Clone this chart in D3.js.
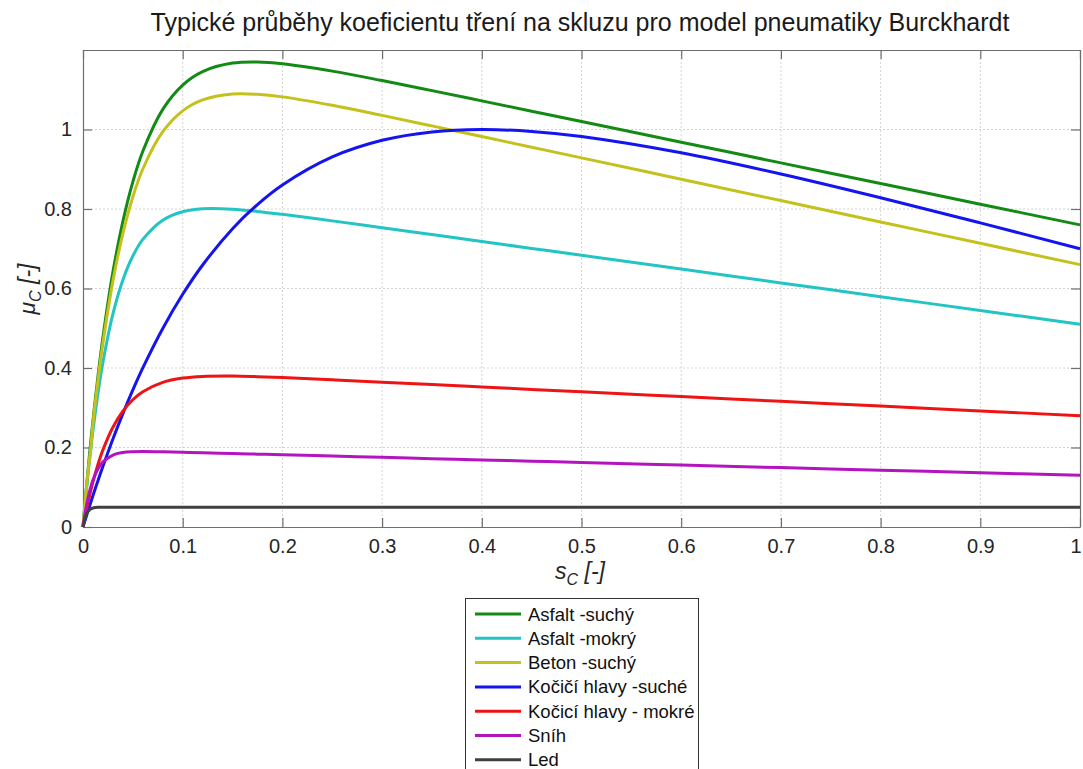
<!DOCTYPE html>
<html><head><meta charset="utf-8">
<script src="https://cdn.jsdelivr.net/npm/d3@7"></script>
<style>body{margin:0;background:#fff}svg{display:block;font-family:"Liberation Sans",Arial,sans-serif}</style>
</head><body>
<script>
const slip = [0,0.0025,0.005,0.0075,0.01,0.015,0.02,0.03,0.04,0.05,0.06,0.08,0.1,0.12,0.15,0.175,0.2,0.25,0.3,0.35,0.4,0.45,0.5,0.6,0.7,0.8,0.9,1];
const asfaltSuchy = [0,0.0732,0.1421,0.2069,0.2679,0.3791,0.4774,0.6412,0.7690,0.8684,0.9454,1.0507,1.1119,1.1458,1.1671,1.1699,1.1655,1.1469,1.1231,1.0978,1.0720,1.0461,1.0201,0.9681,0.9161,0.8641,0.8121,0.7601];
const asfaltMokry = [0,0.0686,0.1316,0.1894,0.2425,0.3358,0.4143,0.5359,0.6216,0.6817,0.7235,0.7720,0.7932,0.8006,0.7996,0.7940,0.7866,0.7701,0.7529,0.7356,0.7182,0.7009,0.6835,0.6488,0.6141,0.5794,0.5447,0.5100];
const betonSuchy = [0,0.0717,0.1389,0.1900,0.2610,0.3684,0.4628,0.6185,0.7383,0.8303,0.9006,0.9944,1.0469,1.0744,1.0893,1.0886,1.0821,1.0608,1.0355,1.0091,0.9822,0.9555,0.9287,0.8749,0.8212,0.7675,0.7137,0.6600];
const kociciSuche = [0,0.0203,0.0402,0.0598,0.0791,0.1166,0.1527,0.2214,0.2853,0.3449,0.4003,0.4996,0.5854,0.6591,0.7503,0.8112,0.8605,0.9310,0.9729,0.9940,1.0000,0.9952,0.9824,0.9414,0.8880,0.8282,0.7650,0.7000];
const kociciMokre = [0,0.0321,0.0615,0.0885,0.1134,0.1571,0.1940,0.2511,0.2916,0.3202,0.3402,0.3638,0.3746,0.3789,0.3798,0.3782,0.3759,0.3702,0.3643,0.3583,0.3522,0.3462,0.3402,0.3282,0.3161,0.3041,0.2920,0.2800];
const snih = [0,0.0406,0.0727,0.0981,0.1180,0.1462,0.1637,0.1811,0.1875,0.1896,0.1900,0.1893,0.1881,0.1868,0.1849,0.1833,0.1817,0.1785,0.1752,0.1720,0.1688,0.1655,0.1623,0.1558,0.1494,0.1429,0.1365,0.1300];
const led = [0,0.0268,0.0392,0.0450,0.0477,0.0495,0.0499,0.05,0.05,0.05,0.05,0.05,0.05,0.05,0.05,0.05,0.05,0.05,0.05,0.05,0.05,0.05,0.05,0.05,0.05,0.05,0.05,0.05];
const seriesNames = ["Asfalt -suchý","Asfalt -mokrý","Beton -suchý","Kočičí hlavy -suché","Kočicí hlavy - mokré","Sníh","Led"];
const seriesColors = ["#138a13","#22c4c4","#c4c01c","#1414f0","#ee1414","#b414c0","#404040"];
const seriesValues = [asfaltSuchy,asfaltMokry,betonSuchy,kociciSuche,kociciMokre,snih,led];
const xTicks = [0,0.1,0.2,0.3,0.4,0.5,0.6,0.7,0.8,0.9,1];
const yTicks = [0,0.2,0.4,0.6,0.8,1];
const titleText = "Typické průběhy koeficientu tření na skluzu pro model pneumatiky Burckhardt";

const W=1083,H=769;
const m={l:83,r:1080,t:50,b:527};
const svg=d3.select("body").append("svg").attr("width",W).attr("height",H);
const x=d3.scaleLinear().domain([0,1]).range([m.l,m.r]);
const y=d3.scaleLinear().domain([0,1.2]).range([m.b,m.t]);

// grid
const g=svg.append("g");
g.selectAll(".gx").data(xTicks.slice(1,-1)).enter().append("line")
 .attr("x1",d=>x(d)).attr("x2",d=>x(d)).attr("y1",m.t).attr("y2",m.b)
 .attr("stroke","#d4d4d4").attr("stroke-width",1).attr("stroke-dasharray","2,2");
g.selectAll(".gy").data(yTicks.slice(1)).enter().append("line")
 .attr("x1",m.l).attr("x2",m.r).attr("y1",d=>y(d)).attr("y2",d=>y(d))
 .attr("stroke","#d4d4d4").attr("stroke-width",1).attr("stroke-dasharray","2,2");

// axes
const axCol="#6e6e6e", txtCol="#262626";
function styleAxis(sel){sel.select(".domain").attr("stroke",axCol).attr("stroke-width",1.2);
 sel.selectAll(".tick line").attr("stroke",axCol).attr("stroke-width",1.2);
 sel.selectAll(".tick text").attr("fill",txtCol).style("font-size","20px");}
const fmt=d=>d===0?"0":d===1?"1":String(d);
const xb=svg.append("g").attr("transform",`translate(0,${m.b})`)
 .call(d3.axisBottom(x).tickValues(xTicks).tickFormat(fmt).tickSizeInner(-9).tickSizeOuter(0).tickPadding(12))
 .call(styleAxis);
xb.selectAll(".tick text").filter(d=>d===1).attr("text-anchor","end").attr("dx",1);
svg.append("g").attr("transform",`translate(0,${m.t})`)
 .call(d3.axisTop(x).tickValues(xTicks).tickFormat("").tickSizeInner(-9).tickSizeOuter(0))
 .call(styleAxis);
svg.append("g").attr("transform",`translate(${m.l},0)`)
 .call(d3.axisLeft(y).tickValues(yTicks).tickFormat(fmt).tickSizeInner(-9).tickSizeOuter(0).tickPadding(11))
 .call(styleAxis);
svg.append("g").attr("transform",`translate(${m.r},0)`)
 .call(d3.axisRight(y).tickValues(yTicks).tickFormat("").tickSizeInner(-9).tickSizeOuter(0))
 .call(styleAxis);

// lines
const smooth=d3.line().x((d,i)=>x(slip[i])).y(d=>y(d)).curve(d3.curveCatmullRom.alpha(0.5));
const mono=d3.line().x((d,i)=>x(slip[i])).y(d=>y(d)).curve(d3.curveMonotoneX);
svg.append("clipPath").attr("id","c").append("rect").attr("x",m.l-2).attr("y",m.t).attr("width",m.r-m.l+4).attr("height",m.b-m.t+2);
svg.append("g").attr("clip-path","url(#c)").selectAll("path").data(seriesValues).enter().append("path")
 .attr("d",(d,i)=>i===6?mono(d):smooth(d)).attr("fill","none").attr("stroke",(d,i)=>seriesColors[i]).attr("stroke-width",3).attr("stroke-linejoin","round");

// title
svg.append("text").attr("x",580).attr("y",31).attr("text-anchor","middle").attr("fill","#1a1a1a").style("font-size","25px").text(titleText);
// x label
const xl=svg.append("text").attr("x",580).attr("y",579).attr("text-anchor","middle").attr("fill",txtCol).style("font-size","23px").style("font-style","italic");
xl.append("tspan").text("s");
xl.append("tspan").style("font-size","16px").attr("dy",6).text("C");
xl.append("tspan").attr("dy",-6).text(" [-]");
// y label
const yl=svg.append("text").attr("transform","translate(35,289) rotate(-90)").attr("text-anchor","middle").attr("fill",txtCol).style("font-size","23px").style("font-style","italic");
yl.append("tspan").text("μ");
yl.append("tspan").style("font-size","16px").attr("dy",6).text("C");
yl.append("tspan").attr("dy",-6).text(" [-]");

// legend
const lg=svg.append("g");
lg.append("rect").attr("x",465.5).attr("y",598.5).attr("width",233).attr("height",185).attr("fill","#fff").attr("stroke","#333").attr("stroke-width",1);
seriesNames.forEach((n,i)=>{
 const yy=614+i*24.3;
 lg.append("line").attr("x1",475).attr("x2",521).attr("y1",yy).attr("y2",yy).attr("stroke",seriesColors[i]).attr("stroke-width",3);
 lg.append("text").attr("x",528).attr("y",yy+6.5).attr("fill","#111").style("font-size","18.5px").text(n);
});
</script>
</body></html>
